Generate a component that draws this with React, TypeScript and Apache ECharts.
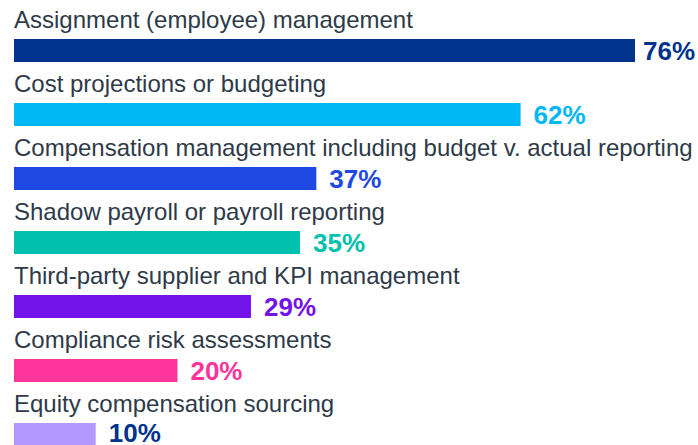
import React, { useEffect, useRef } from "react";
import * as echarts from "echarts";

const categories = [
  "Assignment (employee) management",
  "Cost projections or budgeting",
  "Compensation management including budget v. actual reporting",
  "Shadow payroll or payroll reporting",
  "Third-party supplier and KPI management",
  "Compliance risk assessments",
  "Equity compensation sourcing",
];
const values = [76, 62, 37, 35, 29, 20, 10];
const barColors = ["#00338D", "#00B8F5", "#1E49E2", "#00C0AE", "#7213EA", "#FD349C", "#B497FF"];
const labelColors = ["#00338D", "#00B8F5", "#1E49E2", "#00C0AE", "#7213EA", "#FD349C", "#00338D"];

export default function App() {
  const ref = useRef<HTMLDivElement>(null);
  useEffect(() => {
    if (!ref.current) return;
    const chart = echarts.init(ref.current, null, { renderer: "svg" });
    const last = values.length - 1;
    chart.setOption({
      animation: false,
      grid: { left: 14, right: 0, top: 18.5, height: 448 },
      xAxis: { type: "value", min: 0, max: (76 * 684) / 621, show: false },
      yAxis: {
        type: "category",
        data: categories,
        inverse: true,
        show: false,
      },
      series: [
        {
          type: "bar",
          barWidth: 23,
          data: values.map((v, i) => ({
            value: v,
            itemStyle: { color: barColors[i] },
            label: {
              color: labelColors[i],
              distance: i === 0 ? 8 : 13,
              offset: i === last ? [0, -2] : [0, 0],
            },
          })),
          label: {
            show: true,
            position: "right",
            formatter: "{c}%",
            fontFamily: "Liberation Sans",
            fontWeight: "bold",
            fontSize: 26,
            lineHeight: 20,
          },
        },
        {
          type: "bar",
          barWidth: 23,
          barGap: "-100%",
          silent: true,
          data: values,
          itemStyle: { color: "transparent" },
          label: {
            show: true,
            position: [0, -8],
            verticalAlign: "bottom",
            align: "left",
            formatter: (p: any) => categories[p.dataIndex],
            fontFamily: "Liberation Sans",
            fontSize: 24,
            color: "#2E3A48",
          },
        },
      ],
    });
    return () => chart.dispose();
  }, []);
  return (
    <div style={{ width: 698, height: 445, position: "absolute", left: 0, top: 0, overflow: "hidden" }}>
      <div ref={ref} style={{ width: 698, height: 470 }} />
    </div>
  );
}
